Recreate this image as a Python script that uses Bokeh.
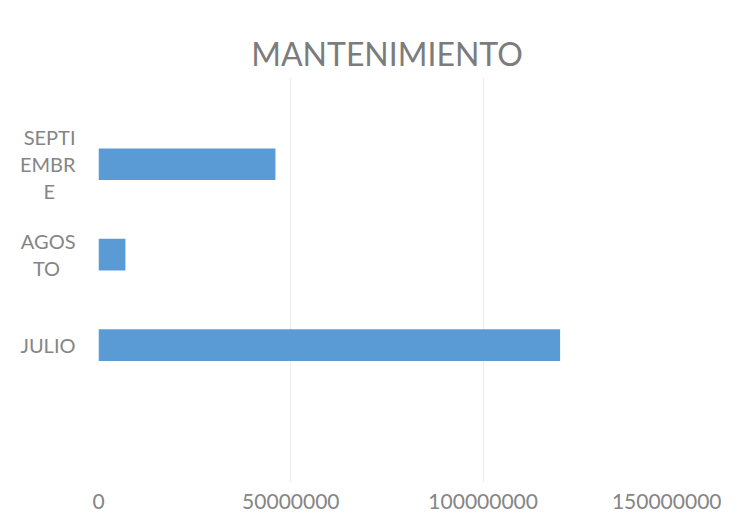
from bokeh.plotting import figure
from bokeh.models import FixedTicker, Range1d
from bokeh.embed import file_html
from bokeh.resources import INLINE

NB = "\u00a0"  # non-breaking space, used to centre the short wrapped lines

categories = ["JULIO", "AGOSTO", "SEPTIEMBRE"]
category_labels = ["JULIO", "AGOS\nTO" + NB * 3, "SEPTI\nEMBR\nE" + NB * 4]
values = [120000000, 7000000, 46000000]
x_ticks = [0, 50000000, 100000000, 150000000]
x_tick_labels = ["0", "50000000", "100000000", "150000000"]

ypos = list(range(1, len(categories) + 1))

p = figure(width=721, height=511, output_backend="svg", toolbar_location=None,
           x_range=Range1d(0, 150000000), y_range=Range1d(-0.52, 3.96),
           min_border_left=98, min_border_right=46, min_border_bottom=26, min_border_top=77,
           title="MANTENIMIENTO")
p.hbar(y=ypos, right=values, height=0.35, left=0, color="#5B9BD5", line_color=None)

p.title.align = "center"
p.title.text_font = "Lato"
p.title.text_font_size = "32px"
p.title.text_font_style = "normal"
p.title.text_color = "#7c7c7c"
p.title.offset = -6
p.title.standoff = 9

p.outline_line_color = None
p.background_fill_color = "white"

p.xaxis.ticker = FixedTicker(ticks=x_ticks)
p.xaxis.major_label_overrides = {t: l for t, l in zip(x_ticks, x_tick_labels)}
p.xaxis.axis_line_color = None
p.xaxis.major_tick_line_color = None
p.xaxis.minor_tick_line_color = None
p.xaxis.major_label_text_font = "Lato"
p.xaxis.major_label_text_font_size = "21px"
p.xaxis.major_label_text_color = "#858585"
p.xaxis.major_label_standoff = 5

p.yaxis.ticker = FixedTicker(ticks=ypos)
p.yaxis.major_label_overrides = {y: l for y, l in zip(ypos, category_labels)}
p.yaxis.axis_line_color = None
p.yaxis.major_tick_line_color = None
p.yaxis.minor_tick_line_color = None
p.yaxis.major_label_text_font = "Lato"
p.yaxis.major_label_text_font_size = "20px"
p.yaxis.major_label_text_color = "#858585"
p.yaxis.major_label_text_line_height = 1.12
p.yaxis.major_label_standoff = 17

p.xgrid.grid_line_color = "#ececec"
p.ygrid.grid_line_color = None

open("out.html", "w").write(file_html(p, INLINE))
